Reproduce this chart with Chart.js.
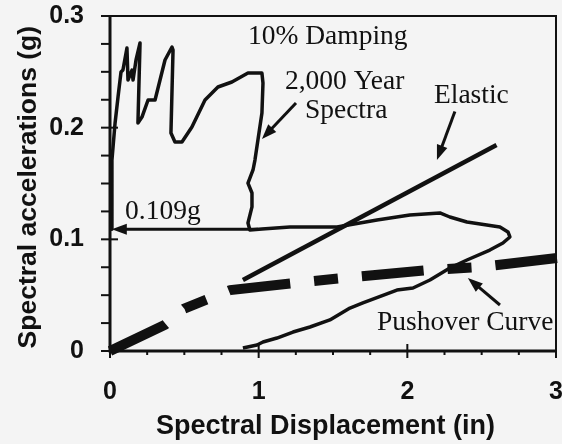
<!DOCTYPE html>
<html><head><meta charset="utf-8">
<script src="https://cdn.jsdelivr.net/npm/chart.js@4"></script>
<style>
html,body{margin:0;padding:0;background:#f4f4f4;}
#wrap{width:562px;height:444px;position:relative;}
</style></head><body>
<div id="wrap"><canvas id="c" width="562" height="444"></canvas></div>
<script>
// ---- data ----
const spectraSd = [0.007,0.013,0.034,0.054,0.074,0.087,0.114,0.121,0.148,0.155,0.175,0.202,0.188,0.215,0.256,0.303,0.370,0.417,0.424,0.410,0.437,0.484,0.551,0.639,0.726,0.820,0.928,1.022,1.029,1.022,0.995,0.975,0.962,0.928,0.955,0.955,0.928,0.941,1.022,1.210,1.527,1.796,2.017,2.219,2.286,2.401,2.623,2.677,2.690,2.643,2.555,2.401,2.286,2.152,2.038,1.930,1.701,1.614,1.479,1.345,1.231,1.123,1.029,0.989,0.894];
const spectraSa = [0.109,0.171,0.204,0.2275,0.2498,0.2516,0.2713,0.2427,0.2516,0.2427,0.2606,0.2758,0.2042,0.2095,0.2248,0.2248,0.2606,0.2722,0.2695,0.1952,0.1872,0.1872,0.2006,0.2248,0.2364,0.2409,0.2489,0.2489,0.240,0.2131,0.1889,0.171,0.1621,0.1504,0.1415,0.129,0.1146,0.1084,0.1093,0.111,0.111,0.1173,0.1218,0.1236,0.120,0.1155,0.111,0.1066,0.1021,0.0967,0.0904,0.0815,0.0743,0.0636,0.0564,0.0546,0.043,0.0385,0.0278,0.0215,0.017,0.0116,0.0081,0.0054,0.0027];
const elasticSd = [0.894, 2.600];
const elasticSa = [0.0636, 0.1845];
const pushoverSd = [0, 0.37, 0.50, 0.66, 0.81, 1.24, 1.57, 2.15, 2.49, 3.04];
const pushoverSa = [0, 0.0235, 0.038, 0.0466, 0.0546, 0.0609, 0.0654, 0.0725, 0.0752, 0.0838];
const demandSa = 0.109;            // spectral acceleration at the performance point
const xTickLabels = ['0', '1', '2', '3'];
const yTickLabels = ['0', '0.1', '0.2', '0.3'];
const xTitle = 'Spectral Displacement (in)';
const yTitle = 'Spectral accelerations (g)';
const noteTexts = ['10% Damping', '2,000 Year', 'Spectra', 'Elastic', 'Pushover Curve', '0.109g'];

// ---- layout of annotations (data coordinates) ----
const notePos = [[0.928,0.275],[1.177,0.2346],[1.311,0.2087],[2.179,0.2221],[1.796,0.0188],[0.101,0.1182]];
const arrows = [
  [[1.251,0.2221],[1.022,0.1898]],
  [[2.32,0.2145],[2.199,0.171]],
  [[2.623,0.0412],[2.407,0.0654]],
  [[0.995,demandSa],[0.012,demandSa]]
];

const pts = (xs, ys) => xs.map((v, i) => ({x: v, y: ys[i]}));
const INK = '#111';

const deco = {
  id: 'deco',
  afterDatasetsDraw(chart) {
    const {ctx, chartArea: a, scales: {x, y}} = chart;
    ctx.save();
    ctx.strokeStyle = INK; ctx.fillStyle = INK;
    ctx.lineWidth = 2;
    ctx.beginPath(); ctx.moveTo(a.left, a.top); ctx.lineTo(a.right, a.top); ctx.lineTo(a.right, a.bottom); ctx.stroke();
    ctx.lineWidth = 3;
    ctx.beginPath(); ctx.moveTo(a.left, a.top - 1); ctx.lineTo(a.left, a.bottom); ctx.lineTo(a.right + 1, a.bottom); ctx.stroke();
    ctx.lineWidth = 2;
    for (let i = 0; i <= 12; i++) {
      const py = y.getPixelForValue(i * 0.025);
      const major = i % 4 === 0;
      ctx.beginPath(); ctx.moveTo(a.left - 9, py); ctx.lineTo(a.left + (major ? 8 : 0), py); ctx.stroke();
    }
    for (let i = 0; i <= 12; i++) {
      const px = x.getPixelForValue(i * 0.25);
      const major = i % 4 === 0;
      ctx.beginPath(); ctx.moveTo(px, a.bottom + (major ? 7 : 4)); ctx.lineTo(px, a.bottom - (major ? 7 : 0)); ctx.stroke();
    }
    // arrows
    ctx.lineWidth = 3;
    arrows.forEach(([p, q]) => {
      const x1 = x.getPixelForValue(p[0]), y1 = y.getPixelForValue(p[1]);
      const x2 = x.getPixelForValue(q[0]), y2 = y.getPixelForValue(q[1]);
      const ang = Math.atan2(y2 - y1, x2 - x1);
      const L = 15, W = 5.5;
      ctx.beginPath(); ctx.moveTo(x1, y1);
      ctx.lineTo(x2 - Math.cos(ang) * L * 0.8, y2 - Math.sin(ang) * L * 0.8); ctx.stroke();
      ctx.beginPath();
      ctx.moveTo(x2, y2);
      ctx.lineTo(x2 - Math.cos(ang) * L - Math.sin(ang) * W, y2 - Math.sin(ang) * L + Math.cos(ang) * W);
      ctx.lineTo(x2 - Math.cos(ang) * L + Math.sin(ang) * W, y2 - Math.sin(ang) * L - Math.cos(ang) * W);
      ctx.closePath(); ctx.fill();
    });
    // notes
    ctx.font = '27.5px "Liberation Serif", "Times New Roman", serif';
    ctx.textAlign = 'left'; ctx.textBaseline = 'alphabetic';
    noteTexts.forEach((t, i) => {
      ctx.fillText(t, x.getPixelForValue(notePos[i][0]), y.getPixelForValue(notePos[i][1]));
    });
    ctx.restore();
  }
};

Chart.defaults.font.family = '"Liberation Sans", Arial, sans-serif';
Chart.defaults.color = INK;

new Chart(document.getElementById('c'), {
  type: 'scatter',
  data: {
    datasets: [
      {label: '2,000 Year Spectra', data: pts(spectraSd, spectraSa), showLine: true, borderColor: INK, borderWidth: 3.5, pointRadius: 0, tension: 0, borderJoinStyle: 'round'},
      {label: 'Elastic', data: pts(elasticSd, elasticSa), showLine: true, borderColor: INK, borderWidth: 4.5, pointRadius: 0},
      {label: 'Pushover Curve', data: pts(pushoverSd, pushoverSa), showLine: true, borderColor: INK, borderWidth: 10, pointRadius: 0, borderDash: [62, 24, 24, 24], borderCapStyle: 'butt', clip: false}
    ]
  },
  options: {
    responsive: false,
    animation: false,
    layout: {padding: {top: 16, right: 6, left: 0, bottom: 0}},
    plugins: {legend: {display: false}, tooltip: {enabled: false}},
    scales: {
      x: {
        type: 'linear', min: 0, max: 3,
        grid: {display: false}, border: {display: false},
        ticks: {stepSize: 1, padding: 18, font: {size: 25, weight: 'bold'}, callback: v => xTickLabels[Math.round(v)], maxRotation: 0},
        title: {display: true, text: xTitle + '  ', font: {size: 27, weight: 'bold'}, padding: {top: 0, bottom: 1}},
        afterFit: s => { s.height = 93; s.paddingRight = 0; s.paddingLeft = 0; }
      },
      y: {
        type: 'linear', min: 0, max: 0.3,
        grid: {display: false}, border: {display: false},
        ticks: {stepSize: 0.1, padding: 18, font: {size: 25, weight: 'bold'}, callback: v => yTickLabels[Math.round(v * 10)]},
        title: {display: true, text: yTitle + ' ', font: {size: 26.5, weight: 'bold'}, padding: {top: 13, bottom: 0}},
        afterFit: s => { s.width = 110; s.paddingTop = 0; s.paddingBottom = 0; }
      }
    }
  },
  plugins: [deco]
});
</script>
</body></html>
